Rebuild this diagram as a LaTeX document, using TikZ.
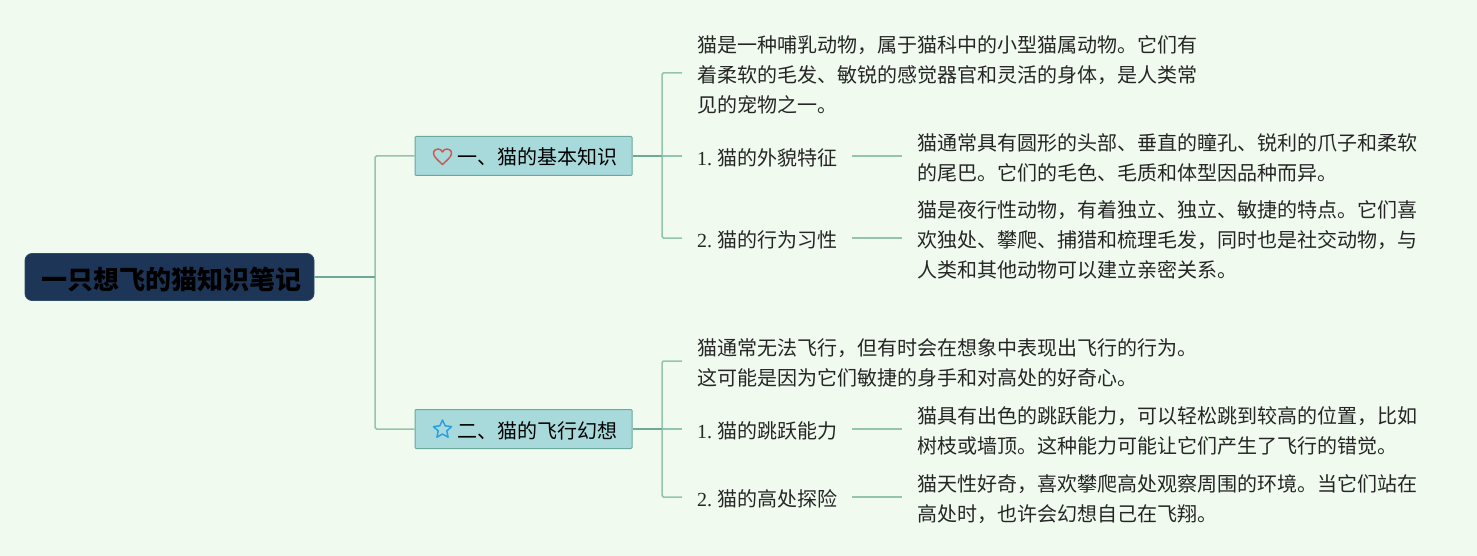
\documentclass[tikz,border=0pt]{standalone}
\usepackage{fontspec}
\newfontfamily\cjk{Noto Sans CJK SC}
\newfontfamily\numfont{Liberation Serif}
\usetikzlibrary{calc, positioning, shapes.geometric}
\definecolor{pagebg}{HTML}{F0FAEF}
\definecolor{rootfill}{HTML}{1D3557}
\definecolor{boxfill}{HTML}{A8DADC}
\definecolor{boxedge}{HTML}{6BA89E}
\definecolor{linelight}{HTML}{93C4B0}
\definecolor{linedark}{HTML}{6FA898}
\definecolor{heartred}{HTML}{CB5A50}
\definecolor{starblue}{HTML}{2E9FDF}
\tikzset{
    rootbox/.style={draw=rootfill!80!boxedge,fill=rootfill,rounded corners=7pt,line width=0.8pt,minimum width=289pt,minimum height=47pt,inner sep=0pt,text height=24pt,text depth=0pt,font=\cjk\bfseries\fontsize{26}{30}\selectfont},
    topicbox/.style={draw=boxedge,fill=boxfill,rounded corners=1pt,line width=1pt,minimum width=217pt,minimum height=39pt,inner sep=0pt,text height=18pt,text depth=0pt,font=\cjk\fontsize{20}{30}\selectfont},
    leaf/.style={anchor=west,inner xsep=15pt,inner ysep=0pt,yshift=-1.75pt,align=left,text=black!85,font=\cjk\fontsize{20}{30}\selectfont},
    leafup/.style={yshift=1.75pt},
    branch/.style={linelight,line width=1.5pt,rounded corners=1.5pt},
    stub/.style={linedark,line width=2pt},
    icon/.style={line width=1.5pt,line join=round}
}
\begin{document}
\begin{tikzpicture}[x=1pt,y=-1pt]
    \fill[pagebg] (0,0) rectangle (1477,556);
    \useasboundingbox (0,0) rectangle (1477,556);

    \node[rootbox] (root) at (169.5,277){\hspace{4pt}一只想飞的猫知识笔记};
    \coordinate (rootfork) at (375,277);

    % first topic
    \node[topicbox] (basic) at (523.5,156){\hspace{28pt}一、猫的基本知识};
    \coordinate (basicfork) at (662,156);
    \begin{scope}[shift={(442.5,156.5)}]
        \draw[icon,heartred] (0,8) .. controls (-3,5) and (-9,0.5) .. (-9,-3) .. controls (-9,-6.5) and (-6,-7.5) .. (-4.5,-7.5) .. controls (-2.5,-7.5) and (-1,-6.5) .. (0,-4.5) .. controls (1,-6.5) and (2.5,-7.5) .. (4.5,-7.5) .. controls (6,-7.5) and (9,-6.5) .. (9,-3) .. controls (9,0.5) and (3,5) .. (0,8) -- cycle;
    \end{scope}
    \node[leaf] (basicintro) at (682,73){猫是一种哺乳动物，属于猫科中的小型猫属动物。它们有\\着柔软的毛发、敏锐的感觉器官和灵活的身体，是人类常\\见的宠物之一。};
    \node[leaf] (looks) at (682,156){{\numfont 1.}\hspace{5pt}猫的外貌特征};
    \node[leaf] (looksinfo) at (902,156){猫通常具有圆形的头部、垂直的瞳孔、锐利的爪子和柔软\\的尾巴。它们的毛色、毛质和体型因品种而异。};
    \node[leaf] (habits) at (682,238){{\numfont 2.}\hspace{5pt}猫的行为习性};
    \node[leaf] (habitsinfo) at (902,238){猫是夜行性动物，有着独立、独立、敏捷的特点。它们喜\\欢独处、攀爬、捕猎和梳理毛发，同时也是社交动物，与\\人类和其他动物可以建立亲密关系。};

    % second topic
    \node[topicbox] (flying) at (523.5,429){\hspace{28pt}二、猫的飞行幻想};
    \coordinate (flyingfork) at (662,429);
    \node[star,star points=5,star point ratio=2.1,draw=starblue,icon,minimum size=19pt,inner sep=0pt] (staricon) at (442.5,429.5){};
    \node[leaf] (flyingintro) at (682,361){猫通常无法飞行，但有时会在想象中表现出飞行的行为。\\这可能是因为它们敏捷的身手和对高处的好奇心。};
    \node[leaf] (jump) at (682,429){{\numfont 1.}\hspace{5pt}猫的跳跃能力};
    \node[leaf] (jumpinfo) at (902,429){猫具有出色的跳跃能力，可以轻松跳到较高的位置，比如\\树枝或墙顶。这种能力可能让它们产生了飞行的错觉。};
    \node[leaf] (heights) at (682,497){{\numfont 2.}\hspace{5pt}猫的高处探险};
    \node[leaf] (heightsinfo) at (902,497){猫天性好奇，喜欢攀爬高处观察周围的环境。当它们站在\\高处时，也许会幻想自己在飞翔。};

    \draw[branch] (rootfork) |- (basic.west);
    \draw[branch] (rootfork) |- (flying.west);
    \draw[stub] (root.east) -- (rootfork);

    \draw[branch] (basicfork) |- ([leafup]basicintro.west);
    \draw[branch] (basicfork) |- ([leafup]habits.west);
    \draw[branch] (basicfork) -- ([leafup]looks.west);
    \draw[stub] (basic.east) -- (basicfork);
    \draw[branch] ([leafup]looks.east) -- ([leafup]looksinfo.west);
    \draw[branch] ([leafup]habits.east) -- ([leafup]habitsinfo.west);

    \draw[branch] (flyingfork) |- ([leafup]flyingintro.west);
    \draw[branch] (flyingfork) |- ([leafup]heights.west);
    \draw[branch] (flyingfork) -- ([leafup]jump.west);
    \draw[stub] (flying.east) -- (flyingfork);
    \draw[branch] ([leafup]jump.east) -- ([leafup]jumpinfo.west);
    \draw[branch] ([leafup]heights.east) -- ([leafup]heightsinfo.west);
\end{tikzpicture}
\end{document}
